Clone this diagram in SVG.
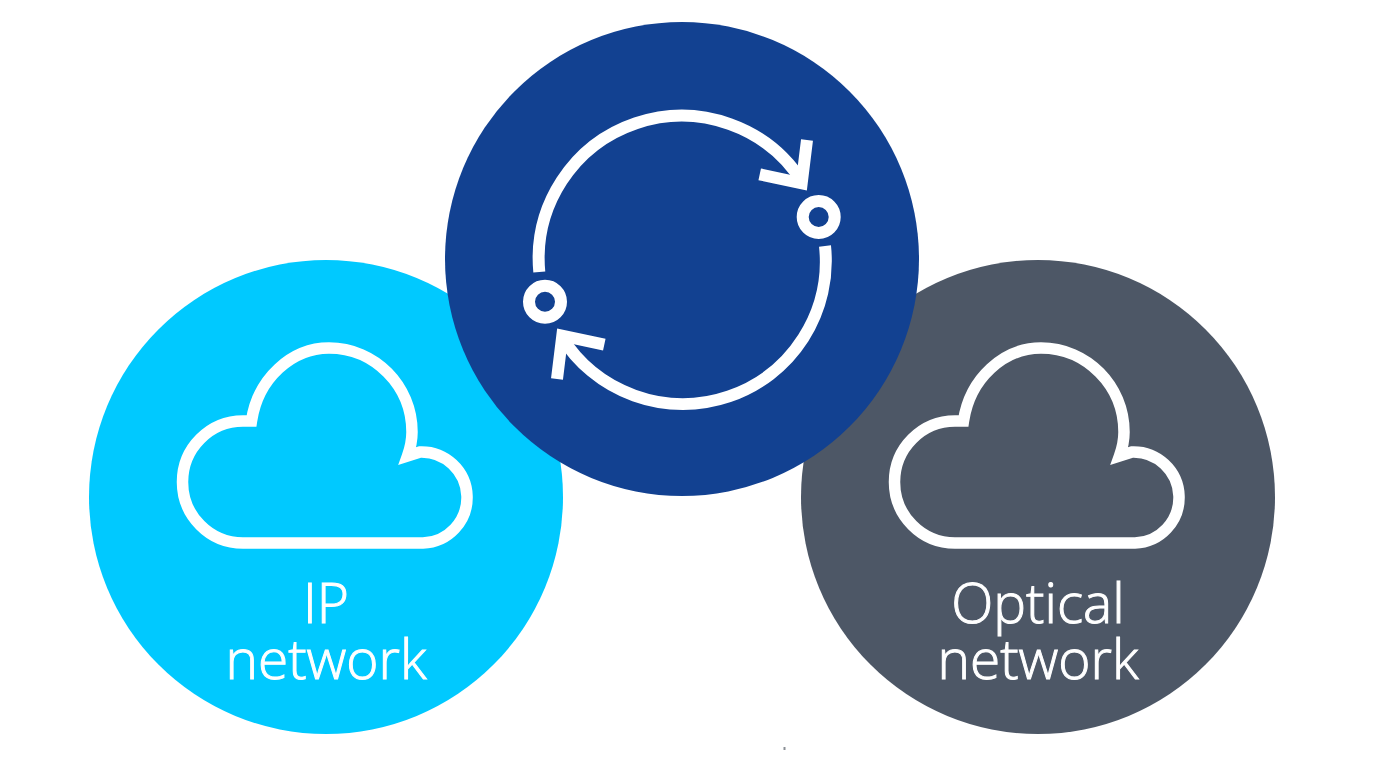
<svg xmlns="http://www.w3.org/2000/svg" width="1376" height="774" viewBox="0 0 1376 774">
<style>
.line{fill:none;stroke:#fff;stroke-width:12;stroke-miterlimit:8}
.cloud{fill:none;stroke:#fff;stroke-width:11.500;stroke-miterlimit:8}
.label{font-family:"Open Sans","Noto Sans",sans-serif;font-size:55px;font-weight:300;fill:#fff;text-anchor:middle;stroke:#fff;stroke-width:1}
</style>
<defs>
<path id="cloud" class="cloud" d="M243 543A60.500 61 0 0 1 243 421H251.500C258 378 292 348 329 348C375 348 412 386 412 432C412 440 410 449 407.500 456L420 452A45.500 45.500 0 0 1 423 543Z"/>
</defs>
<rect width="1376" height="774" fill="#fff"/>
<g id="ip-network">
<circle cx="326" cy="497" r="237" fill="#00C9FF"/>
<use href="#cloud"/>
<text class="label"><tspan x="326" y="622.500">IP</tspan><tspan x="326" y="679">network</tspan></text>
</g>
<g id="optical-network">
<circle cx="1038" cy="497" r="237" fill="#4D5766"/>
<use href="#cloud" x="712"/>
<text class="label"><tspan x="1038" y="622.500">Optical</tspan><tspan x="1038" y="679">network</tspan></text>
</g>
<g id="sync">
<circle cx="682" cy="259" r="237" fill="#124191"/>
<circle class="line" cx="818.700" cy="217" r="16"/>
<circle class="line" cx="545" cy="301.700" r="16"/>
</g>
<g id="connectors">
<path class="line" d="M539.300 272A143 143 0 0 1 803 183"/>
<path class="line" d="M807 140L801.700 183.300L759.700 174.300"/>
<path class="line" d="M825 246A143 143 0 0 1 561 336"/>
<path class="line" d="M557 379L562.300 335.700L604.300 344.700"/>
</g>
<rect x="783.500" y="747" width="2" height="3" fill="#8a8f96"/>
</svg>
